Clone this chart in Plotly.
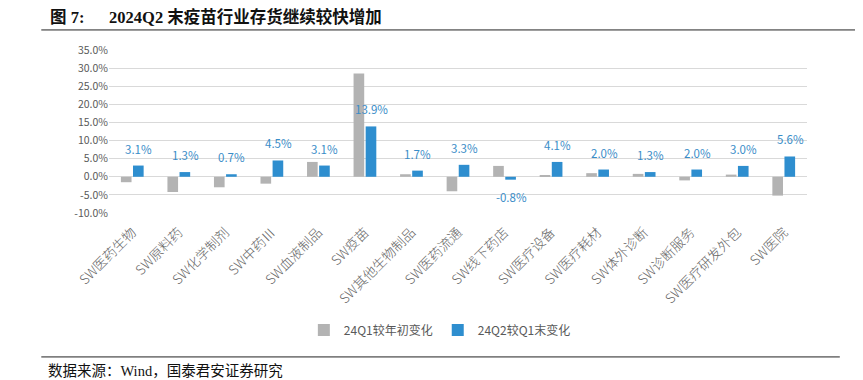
import plotly.graph_objects as go

categories = ["SW医药生物", "SW原料药", "SW化学制剂", "SW中药Ⅲ", "SW血液制品", "SW疫苗",
              "SW其他生物制品", "SW医药流通", "SW线下药店", "SW医疗设备", "SW医疗耗材",
              "SW体外诊断", "SW诊断服务", "SW医疗研发外包", "SW医院"]
q1_change = [-1.5, -4.2, -2.9, -1.9, 4.1, 28.5, 0.7, -4.0, 3.0, 0.3, 1.0, 0.8, -1.0, 0.6, -5.2]
q2_change = [3.1, 1.3, 0.7, 4.5, 3.1, 13.9, 1.7, 3.3, -0.8, 4.1, 2.0, 1.3, 2.0, 3.0, 5.6]
series_names = ["24Q1较年初变化", "24Q2较Q1末变化"]
y_ticks = [-10, -5, 0, 5, 10, 15, 20, 25, 30, 35]
y_tick_text = [f"{t:.1f}%" for t in y_ticks]

GRAY = "#b3b3b3"
BLUE = "#2e8ecf"
LABEL_BLUE = "#3a8dc8"
AXIS_FONT = "Noto Sans CJK SC, Noto Sans, sans-serif"
SERIF = "Liberation Serif, Noto Sans CJK SC, serif"

fig = go.Figure()
fig.add_trace(go.Bar(x=categories, y=q1_change, name=series_names[0],
                     marker=dict(color=GRAY, line=dict(width=0))))
fig.add_trace(go.Bar(x=categories, y=q2_change, name=series_names[1],
                     marker=dict(color=BLUE, line=dict(width=0))))

for c, v in zip(categories, q2_change):
    fig.add_annotation(x=c, y=v, text=f"{v:.1f}%", showarrow=False,
                       xshift=6.5, yshift=17 if v >= 0 else -17,
                       font=dict(size=11.5, color=LABEL_BLUE, family=AXIS_FONT))

# title, lines, source
fig.add_annotation(xref="paper", yref="paper", x=-0.088, y=1.205, xanchor="left", yanchor="middle",
                   text="<b>图 7:&nbsp;&nbsp;&nbsp;&nbsp;&nbsp;&nbsp;2024Q2 末疫苗行业存货继续较快增加</b>",
                   showarrow=False, font=dict(size=16.5, color="#111111", family=SERIF))
fig.add_annotation(xref="paper", yref="paper", x=-0.09, y=-0.97, xanchor="left", yanchor="middle",
                   text="数据来源：Wind，国泰君安证券研究", showarrow=False,
                   font=dict(size=14.5, color="#111111", family=SERIF))
fig.add_shape(type="line", xref="paper", yref="paper", x0=-0.097, x1=1.08, y0=1.123, y1=1.123,
              line=dict(color="#222222", width=1))
fig.add_shape(type="line", xref="paper", yref="paper", x0=-0.097, x1=1.047, y0=-0.883, y1=-0.883,
              line=dict(color="#222222", width=1))

fig.update_layout(
    width=855, height=372,
    margin=dict(l=101, r=56, t=42, b=167, autoexpand=False),
    plot_bgcolor="white", paper_bgcolor="white",
    barmode="group", bargap=0.48, bargroupgap=0.12,
    showlegend=True,
    legend=dict(orientation="h", x=0.474, y=-0.718, xanchor="center", yanchor="middle",
                font=dict(size=12, color="#595959", family=AXIS_FONT),
                itemwidth=30, tracegroupgap=0),
    font=dict(family=AXIS_FONT, color="#595959"),
)
fig.update_xaxes(tickangle=-45, tickfont=dict(size=13.5, color="#666666", weight=300),
                 showgrid=False, showline=False, ticks="", automargin=False,
                 ticklabelstandoff=8)
fig.update_yaxes(range=[-10, 35], tickvals=y_ticks, ticktext=y_tick_text,
                 tickfont=dict(size=10.5, color="#595959"), showgrid=True, gridcolor="#d9d9d9",
                 gridwidth=1, zeroline=True, zerolinecolor="#d9d9d9", zerolinewidth=1,
                 showline=False, ticks="", automargin=False)

fig.write_html("out.html")
